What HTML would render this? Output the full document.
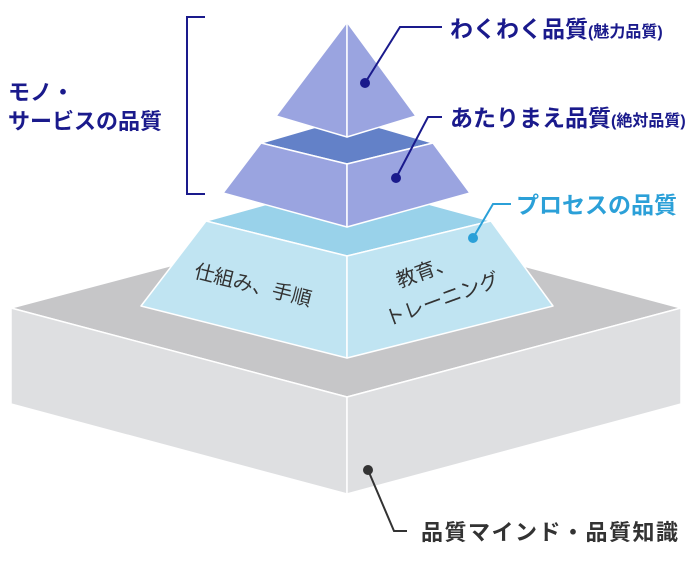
<!DOCTYPE html>
<html><head><meta charset="utf-8"><style>
html,body{margin:0;padding:0;background:#fff;width:690px;height:580px;overflow:hidden}
svg{display:block}
text{font-family:"Liberation Sans","Noto Sans CJK JP",sans-serif}
</style></head><body>
<svg width="690" height="580" viewBox="0 0 690 580">
<g stroke="#fff" stroke-width="1.5" stroke-linejoin="round">
<polygon points="11,308 347,219 681,308 347,397" fill="#c6c6c8"/>
<polygon points="11,308 347,397 347,494 11,404" fill="#dedfe1"/>
<polygon points="681,308 347,397 347,494 681,404" fill="#dedfe1"/>
<polygon points="206,221 347,182 491,221 347,256" fill="#99d2ea"/>
<polygon points="206,221 347,256 347,358 141,306" fill="#c0e4f2"/>
<polygon points="491,221 347,256 347,358 553,306" fill="#c0e4f2"/>
<polygon points="261,143 347,118 433,143 347,164" fill="#6381c8"/>
<polygon points="261,143 347,164 347,227 223,193" fill="#9aa4e0"/>
<polygon points="433,143 347,164 347,227 470,193" fill="#9aa4e0"/>
<polygon points="347,22 276,116 347,137" fill="#9aa4e0"/>
<polygon points="347,22 416,116 347,137" fill="#9aa4e0"/>
</g>
<polyline points="205,17 187,17 187,194 205,194" fill="none" stroke="#1a1a8c" stroke-width="2"/>
<g fill="none" stroke-width="2">
<polyline points="365,83 400,27 442,27" stroke="#1a1a8c"/>
<polyline points="396,178 428,117 442,117" stroke="#1a1a8c"/>
<polyline points="473,238 493,204 511,204" stroke="#2ba0d8"/>
<polyline points="368,470 394,531 407,531" stroke="#333"/>
</g>
<circle cx="365" cy="83" r="5" fill="#1a1a8c"/>
<circle cx="396" cy="178" r="5" fill="#1a1a8c"/>
<circle cx="473" cy="238" r="5" fill="#2ba0d8"/>
<circle cx="368" cy="470" r="5" fill="#333"/>
<text x="450" y="37" font-size="23" font-weight="bold" fill="#1a1a8c">わくわく品質<tspan font-size="16">(魅力品質)</tspan></text>
<text x="450" y="126" font-size="23" font-weight="bold" fill="#1a1a8c">あたりまえ品質<tspan font-size="16">(絶対品質)</tspan></text>
<text x="516" y="213" font-size="23" font-weight="bold" fill="#2ba0d8">プロセスの品質</text>
<text x="8" y="100" font-size="22" font-weight="bold" fill="#1a1a8c">モノ・</text>
<text x="8" y="129" font-size="22" font-weight="bold" fill="#1a1a8c">サービスの品質</text>
<text x="421" y="540" font-size="22" font-weight="bold" fill="#333" letter-spacing="1.5">品質マインド・品質知識</text>
<text x="253" y="292" font-size="20" fill="#333" text-anchor="middle" transform="rotate(14 253 285)">仕組み、手順</text>
<text x="425" y="278" font-size="20" fill="#333" text-anchor="middle" transform="rotate(-20 425 271)">教育、</text>
<text x="442" y="306" font-size="20" fill="#333" text-anchor="middle" transform="rotate(-20 442 299)">トレーニング</text>
</svg>
</body></html>
